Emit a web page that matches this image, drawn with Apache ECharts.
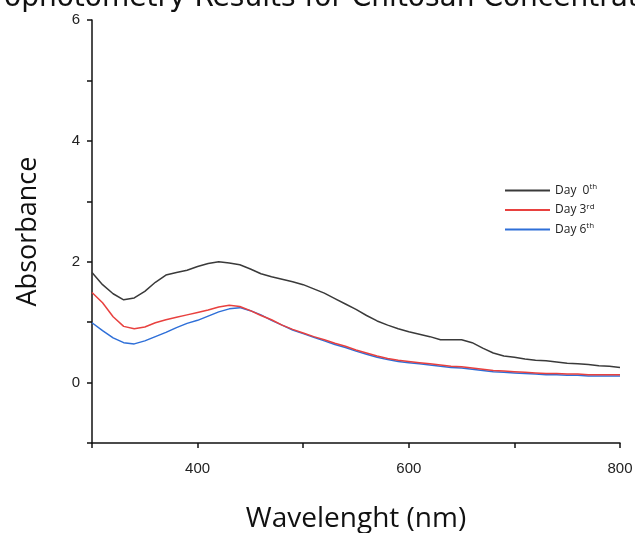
<!DOCTYPE html>
<html><head><meta charset="utf-8">
<script src="https://cdn.jsdelivr.net/npm/echarts@6/dist/echarts.min.js"></script>
<style>html,body{margin:0;padding:0;background:#fff}#c{width:635px;height:533px}</style>
</head><body><div id="c"></div>
<script>
const wavelengths = [300,310,320,330,340,350,360,370,380,390,400,410,420,430,440,450,460,470,480,490,500,510,520,530,540,550,560,570,580,590,600,610,620,630,640,650,660,670,680,690,700,710,720,730,740,750,760,770,780,790,800];
const day0 = [1.82,1.62,1.47,1.37,1.40,1.51,1.66,1.78,1.82,1.86,1.92,1.97,2.00,1.98,1.95,1.88,1.80,1.75,1.71,1.67,1.62,1.55,1.48,1.39,1.30,1.21,1.11,1.02,0.95,0.89,0.84,0.80,0.76,0.71,0.71,0.71,0.66,0.57,0.49,0.44,0.42,0.39,0.37,0.36,0.34,0.32,0.31,0.30,0.28,0.27,0.25];
const day3 = [1.49,1.32,1.09,0.93,0.89,0.92,0.99,1.04,1.08,1.12,1.16,1.20,1.25,1.28,1.26,1.19,1.11,1.04,0.95,0.88,0.82,0.76,0.71,0.65,0.60,0.54,0.49,0.44,0.40,0.37,0.35,0.33,0.31,0.29,0.27,0.26,0.24,0.22,0.20,0.19,0.18,0.17,0.16,0.15,0.15,0.14,0.14,0.13,0.13,0.13,0.13];
const day6 = [0.99,0.86,0.74,0.66,0.64,0.69,0.76,0.83,0.91,0.98,1.03,1.10,1.17,1.22,1.24,1.19,1.12,1.03,0.95,0.87,0.81,0.75,0.69,0.63,0.58,0.52,0.47,0.42,0.38,0.35,0.33,0.31,0.29,0.27,0.25,0.24,0.22,0.20,0.18,0.17,0.16,0.15,0.14,0.13,0.13,0.12,0.12,0.11,0.11,0.11,0.11];
const seriesNames = ['Day 0th','Day 3rd','Day 6th'];
const legendLabels = {'Day 0th':'Day  0{s|th}','Day 3rd':'Day 3{s|rd}','Day 6th':'Day 6{s|th}'};
const xLabels = [400,600,800];
const yLabels = [0,2,4,6];
const titleText = 'Spectrophotometry Results for Chitosan Concentration';

const pairs = arr => wavelengths.map((w,i)=>[w,arr[i]]);
const chart = echarts.init(document.getElementById('c'), null, {renderer:'canvas'});
chart.setOption({
  animation:false,
  backgroundColor:'#fff',
  title:{text:titleText,left:-91,top:-20,textStyle:{fontFamily:'DejaVu Sans',fontWeight:'normal',fontSize:28,color:'#111'}},
  legend:{
    left:500, top:178, orient:'vertical', itemGap:6, icon:'rect', itemWidth:45, itemHeight:2,
    data:seriesNames,
    formatter: n => legendLabels[n],
    textStyle:{fontFamily:'Open Sans',fontSize:12,color:'#222',
      rich:{s:{fontSize:8,fontFamily:'Open Sans',color:'#222',padding:[0,0,7,0]}}}
  },
  grid:{left:92,right:15,top:20,bottom:90,outerBoundsMode:'none',containLabel:false},
  xAxis:{
    type:'value',min:300,max:800,interval:100,
    name:'Wavelenght (nm)',nameLocation:'middle',nameGap:62,
    nameTextStyle:{fontFamily:'Open Sans',fontSize:28,color:'#111'},
    axisLine:{show:true,onZero:false,lineStyle:{color:'#111',width:1.5}},
    axisTick:{show:true,length:5,inside:false,lineStyle:{color:'#111',width:1.5}},
    axisLabel:{margin:18,fontFamily:'Liberation Sans',fontSize:15,color:'#222',
      formatter:v=>xLabels.includes(v)?String(v):''},
    splitLine:{show:false}
  },
  yAxis:{
    type:'value',min:-1,max:6,interval:1,
    name:'Absorbance',nameLocation:'middle',nameGap:50,
    nameTextStyle:{fontFamily:'Open Sans',fontSize:27,color:'#111'},
    axisLine:{show:true,onZero:false,lineStyle:{color:'#111',width:1.5}},
    axisTick:{show:true,length:5,inside:false,lineStyle:{color:'#111',width:1.5}},
    axisLabel:{margin:12,fontFamily:'Liberation Sans',fontSize:15,color:'#222',
      formatter:v=>yLabels.includes(v)?String(v):''},
    splitLine:{show:false}
  },
  series:[
    {name:seriesNames[0],type:'line',data:pairs(day0),symbol:'none',lineStyle:{color:'#3a3a3a',width:1.5},itemStyle:{color:'#3a3a3a'}},
    {name:seriesNames[1],type:'line',data:pairs(day3),symbol:'none',lineStyle:{color:'#e8413f',width:1.5},itemStyle:{color:'#e8413f'}},
    {name:seriesNames[2],type:'line',data:pairs(day6),symbol:'none',lineStyle:{color:'#2e6fd8',width:1.5},itemStyle:{color:'#2e6fd8'},z:1}
  ]
});
</script></body></html>
